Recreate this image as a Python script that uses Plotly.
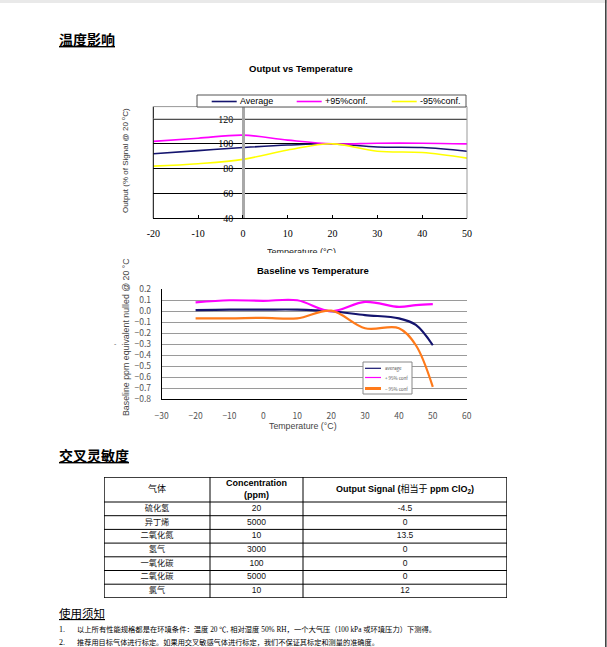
import plotly.graph_objects as go

W, H = 607, 647


def X(px):
    return px / W


def Y(py):
    return 1 - py / H


# ---------------- data ----------------
temp1 = [-20, -10, 0, 10, 20, 30, 40, 50]
avg1 = [92, 94.5, 97, 99, 100, 97.5, 97, 94]
pos1 = [102, 104.5, 107, 103, 100, 100.5, 100.5, 100]
neg1 = [82, 84, 87.5, 95, 100, 94, 93, 88.5]
y1_ticks = [40, 60, 80, 100, 120]
x1_ticks = [-20, -10, 0, 10, 20, 30, 40, 50]
x1_labels = ["-20", "-10", "0", "10", "20", "30", "40", "50"]

temp2 = [-20, -10, 0, 10, 20, 30, 40, 45, 50]
avg2 = [0.01, 0.015, 0.015, 0.015, 0.0, -0.035, -0.065, -0.125, -0.31]
pos2 = [0.08, 0.1, 0.095, 0.1, 0.0, 0.085, 0.04, 0.055, 0.065]
neg2 = [-0.065, -0.065, -0.06, -0.065, 0.005, -0.155, -0.155, -0.31, -0.69]
x2_ticks = [-30, -20, -10, 0, 10, 20, 30, 40, 50, 60]
x2_labels = ["−30", "−20", "−10", "0", "10", "20", "30", "40", "50", "60"]
y2_ticks = [-0.8, -0.7, -0.6, -0.5, -0.4, -0.3, -0.2, -0.1, 0.0, 0.1, 0.2]
y2_labels = ["−0.8", "−0.7", "−0.6", "−0.5", "−0.4", "−0.3", "−0.2", "−0.1", "0.0", "0.1", "0.2"]

gases = ["硫化氢", "异丁烯", "二氧化氮", "氢气", "一氧化碳", "二氧化碳", "氯气"]
concentration = ["20", "5000", "10", "3000", "100", "5000", "10"]
signal = ["-4.5", "0", "13.5", "0", "0", "0", "12"]
headers = ["气体", "<b>Concentration</b><br><b>(ppm)</b>",
           "<b>Output Signal (</b>相当于<b> ppm ClO<sub>2</sub>)</b>"]

NAVY = "#14146e"
MAG = "#ff00ff"
YEL = "#ffff00"
ORA = "#ff7a1a"

SANS = "Liberation Sans, Arial, sans-serif"
SERIF = "Liberation Serif, Times New Roman, serif"
CJK = "Noto Sans CJK SC"
JP = "Noto Sans CJK JP"

fig = go.Figure()

# chart 1 traces
for ys, col in [(avg1, NAVY), (pos1, MAG), (neg1, YEL)]:
    fig.add_trace(go.Scatter(x=temp1, y=ys, mode="lines", xaxis="x", yaxis="y",
                             line=dict(color=col, width=1.6, shape="spline", smoothing=1),
                             showlegend=False, hoverinfo="skip"))

# chart 2 traces
for ys, col in [(avg2, NAVY), (pos2, MAG), (neg2, ORA)]:
    fig.add_trace(go.Scatter(x=temp2, y=ys, mode="lines", xaxis="x2", yaxis="y2",
                             line=dict(color=col, width=2.2, shape="spline", smoothing=1),
                             showlegend=False, hoverinfo="skip"))

# ---------------- table (drawn on its own hidden axes) ----------------
col_w = [106, 93, 204]
head_h, row_h = 25, 13.7
n_rows = len(gases)
tab_w = sum(col_w)
tab_h = head_h + row_h * n_rows
col_edges = [0]
for w in col_w:
    col_edges.append(col_edges[-1] + w)
col_mid = [(col_edges[i] + col_edges[i + 1]) / 2 for i in range(len(col_w))]
row_edges = [0, head_h] + [head_h + row_h * (i + 1) for i in range(n_rows)]
row_mid = [(row_edges[i + 1] + row_edges[i + 2]) / 2 for i in range(n_rows)]

fig.add_trace(go.Scatter(x=col_mid, y=[head_h / 2] * 3, text=headers, mode="text",
                         textposition="middle center", xaxis="x3", yaxis="y3",
                         textfont=dict(family=SANS + ", " + CJK, size=9, color="black"),
                         showlegend=False, hoverinfo="skip", cliponaxis=False))
for i, vals in enumerate([gases, concentration, signal]):
    fam = CJK if i == 0 else SANS
    fig.add_trace(go.Scatter(x=[col_mid[i]] * n_rows, y=row_mid, text=vals, mode="text",
                             textposition="middle center", xaxis="x3", yaxis="y3",
                             textfont=dict(family=fam, size=8.5 if i else 8.2, color="#111"),
                             showlegend=False, hoverinfo="skip", cliponaxis=False))

# ---------------- axes ----------------
t1_top, t1_bot = 106.6, 218.3
t1_left, t1_right = 153.3, 467
x0_px = t1_left + 20 * (t1_right - t1_left) / 70

b_top, b_bot = 289.3, 399
b_left, b_right = 161.7, 466.7

fig.update_layout(
    width=W, height=H, margin=dict(l=0, r=0, t=0, b=0, pad=0, autoexpand=False),
    paper_bgcolor="white", plot_bgcolor="white",
    xaxis=dict(domain=[X(t1_left), X(t1_right)], range=[-20, 50], tickvals=x1_ticks, ticktext=x1_labels,
               showgrid=False, zeroline=False, showline=True, linecolor="black", linewidth=1,
               ticks="inside", ticklen=3, tickcolor="black", ticklabelstandoff=6,
               tickfont=dict(family=SERIF, size=10, color="black"), anchor="y", fixedrange=True),
    yaxis=dict(domain=[Y(t1_bot), Y(t1_top)], range=[40, 130], tickvals=y1_ticks,
               showgrid=True, gridcolor="black", gridwidth=1, zeroline=False,
               anchor="free", position=X(x0_px), showline=True, linecolor="#a8a8a8", linewidth=2.5,
               ticks="", ticklabelstandoff=7,
               tickfont=dict(family=SERIF, size=10, color="black"), fixedrange=True),
    xaxis2=dict(domain=[X(b_left), X(b_right)], range=[-30, 60], tickvals=x2_ticks, ticktext=x2_labels,
                showgrid=False, zeroline=False, showline=True, linecolor="black", linewidth=1,
                ticks="", ticklabelstandoff=9,
                tickfont=dict(family=JP, size=8.5, color="#555"), anchor="y2", fixedrange=True),
    yaxis2=dict(domain=[Y(b_bot), Y(b_top)], range=[-0.8, 0.2], tickvals=y2_ticks, ticktext=y2_labels,
                showgrid=True, gridcolor="#9a9a9a", gridwidth=1, zeroline=False,
                showline=True, linecolor="black", linewidth=1, ticks="", ticklabelstandoff=8,
                tickfont=dict(family=JP, size=8.5, color="#555"), anchor="x2", fixedrange=True),
    xaxis3=dict(domain=[X(104), X(507)], range=[0, tab_w], visible=False, fixedrange=True, anchor="y3"),
    yaxis3=dict(domain=[Y(477 + tab_h), Y(477)], range=[tab_h, 0], visible=False, fixedrange=True, anchor="x3"),
)

shapes = []
# table grid
for j, xe in enumerate(col_edges):
    outer = j in (0, len(col_edges) - 1)
    shapes.append(dict(type="line", xref="x3", yref="y3", x0=xe, x1=xe, y0=0, y1=tab_h,
                       line=dict(color="black", width=1.4 if outer else 1)))
for j, ye in enumerate(row_edges):
    outer = j in (0, len(row_edges) - 1)
    shapes.append(dict(type="line", xref="x3", yref="y3", x0=0, x1=tab_w, y0=ye, y1=ye,
                       line=dict(color="black", width=1.4 if outer else 1)))

# chart 1 frame
shapes.append(dict(type="line", xref="paper", yref="paper", x0=X(t1_left), x1=X(t1_left),
                   y0=Y(t1_bot), y1=Y(t1_top), line=dict(color="black", width=1)))
shapes.append(dict(type="line", xref="paper", yref="paper", x0=X(t1_left), x1=X(t1_right),
                   y0=Y(t1_top), y1=Y(t1_top), line=dict(color="#999", width=1)))
shapes.append(dict(type="line", xref="paper", yref="paper", x0=X(t1_right), x1=X(t1_right),
                   y0=Y(t1_bot), y1=Y(t1_top), line=dict(color="#999", width=1)))
shapes.append(dict(type="line", xref="x domain", yref="y", x0=0, x1=1, y0=120, y1=120,
                   line=dict(color="#a0a0a0", width=1.2), layer="above"))
# chart 1 legend
shapes.append(dict(type="rect", xref="paper", yref="paper", x0=X(197), x1=X(466), y0=Y(107), y1=Y(95),
                   line=dict(color="#555", width=1), fillcolor="white"))
leg1 = [(211.7, 236.7, NAVY, "Average"), (296.7, 321.7, MAG, "+95%conf."), (391.7, 416.7, YEL, "-95%conf.")]
annotations = []
for xa, xb, col, txt in leg1:
    shapes.append(dict(type="line", xref="paper", yref="paper", x0=X(xa), x1=X(xb), y0=Y(101.5), y1=Y(101.5),
                       line=dict(color=col, width=1.6)))
    annotations.append(dict(text=txt, x=X(xb + 1.5), y=Y(101.3),
                            xanchor="left", yanchor="middle",
                            font=dict(family=SANS, size=9, color="black")))

# chart 2 legend
shapes.append(dict(type="rect", xref="paper", yref="paper", x0=X(363), x1=X(412), y0=Y(394), y1=Y(362),
                   line=dict(color="#888", width=1), fillcolor="white", layer="above"))
leg2 = [(368.3, NAVY, 1.2, "average"), (377.5, MAG, 1.2, "+ 95% conf"), (388.5, ORA, 3, "− 95% conf")]
for yy, col, lw, txt in leg2:
    shapes.append(dict(type="line", xref="paper", yref="paper", x0=X(365), x1=X(381), y0=Y(yy), y1=Y(yy),
                       line=dict(color=col, width=lw), layer="above"))
    annotations.append(dict(text=txt, x=X(383), y=Y(yy),
                            xanchor="left", yanchor="middle",
                            font=dict(family=JP, size=4.5, color="#555")))

# page edge decorations
shapes.append(dict(type="rect", xref="paper", yref="paper", x0=0, x1=1, y0=Y(3), y1=1,
                   line=dict(width=0), fillcolor="#e9e9e9"))
shapes.append(dict(type="line", xref="paper", yref="paper", x0=X(605.8), x1=X(605.8), y0=0, y1=1,
                   line=dict(color="#444", width=1.6)))

# titles and texts
annotations += [
    dict(text="<b><u>温度影响</u></b>", x=X(57), y=Y(39.5), xanchor="left", yanchor="middle",
         font=dict(family=CJK, size=14, color="black")),
    dict(text="<b>Output vs Temperature</b>", x=X(301), y=Y(69), xanchor="center", yanchor="middle",
         font=dict(family=SANS, size=9.5, color="black")),
    dict(text="Output (% of Signal @ 20 <sup>o</sup>C)", x=X(125), y=Y(161), xanchor="center", yanchor="middle",
         textangle=-90, font=dict(family=SANS, size=8, color="#333")),
    dict(text="Temperature (°C)", x=X(301.5), y=Y(244.5), xanchor="center", yanchor="top",
         height=6, valign="top", font=dict(family=SANS, size=9, color="#222")),
    dict(text="<b>Baseline vs Temperature</b>", x=X(312.5), y=Y(270), xanchor="center", yanchor="middle",
         font=dict(family=SANS, size=9.5, color="black")),
    dict(text="Baseline ppm equivalent nulled @ 20 °C", x=X(125.5), y=Y(337.5), xanchor="center",
         yanchor="middle", textangle=-90, font=dict(family=SANS, size=8.8, color="#444")),
    dict(text="-", x=X(115.5), y=Y(343), xanchor="center", yanchor="middle",
         font=dict(family=SANS, size=7, color="#666")),
    dict(text="Temperature (°C)", x=X(302.5), y=Y(425.7), xanchor="center", yanchor="middle",
         font=dict(family=SANS, size=8.8, color="#444")),
    dict(text="<b><u>交叉灵敏度</u></b>", x=X(57), y=Y(454.5), xanchor="left", yanchor="middle",
         font=dict(family=CJK, size=14, color="black")),
    dict(text="<u>使用须知</u>", x=X(57), y=Y(612.5), xanchor="left", yanchor="middle",
         font=dict(family=CJK, size=11.5, color="black")),
    dict(text="1.", x=X(57), y=Y(629), xanchor="left", yanchor="middle",
         font=dict(family=SERIF, size=8, color="black")),
    dict(text="以上所有性能规格都是在环境条件：温度 20 ℃, 相对湿度 50% RH，一个大气压（100 kPa 或环境压力）下测得。",
         x=X(75), y=Y(629), xanchor="left", yanchor="middle",
         font=dict(family=SERIF + ", " + CJK, size=7.3, color="black")),
    dict(text="2.", x=X(57), y=Y(642.3), xanchor="left", yanchor="middle",
         font=dict(family=SERIF, size=8, color="black")),
    dict(text="推荐用目标气体进行标定。如果用交叉敏感气体进行标定，我们不保证其标定和测量的准确度。",
         x=X(75), y=Y(642.3), xanchor="left", yanchor="middle",
         font=dict(family=SERIF + ", " + CJK, size=7.2, color="black")),
]
for a in annotations:
    a.setdefault("xref", "paper")
    a.setdefault("yref", "paper")
    a.setdefault("showarrow", False)

fig.update_layout(shapes=shapes, annotations=annotations)

fig.write_html("out.html", config=dict(displayModeBar=False),
               post_script="document.body.style.margin='0';document.body.style.overflow='hidden';")
